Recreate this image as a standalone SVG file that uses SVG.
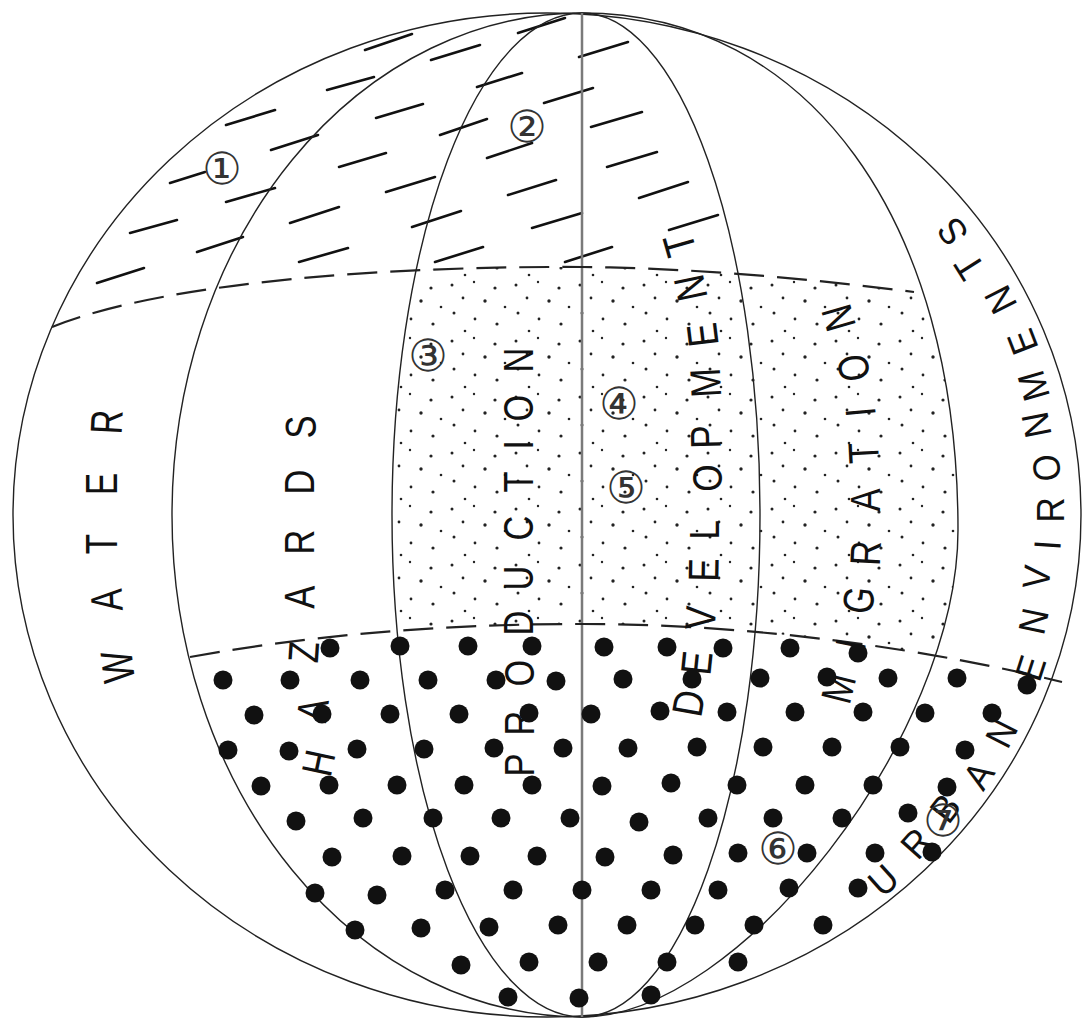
<svg xmlns="http://www.w3.org/2000/svg" width="1087" height="1020" viewBox="0 0 1087 1020">
<defs>
<style>
.ln{fill:none;stroke:#222;stroke-width:1.4}
.ctr{fill:none;stroke:#7a7a7a;stroke-width:2.5}
.dsh{fill:none;stroke:#222;stroke-width:2.2;stroke-dasharray:30 13}
.h line{stroke:#111;stroke-width:2.6;stroke-linecap:round}
.bd circle{fill:#111}
.sp circle{fill:#222}
.L{font-family:"Liberation Sans",Arial,sans-serif;font-size:43px;fill:#111;text-anchor:middle}
.W{font-size:45px}
.S{font-size:38px}
.num{font-family:"DejaVu Sans",sans-serif;font-size:44px;fill:#333;text-anchor:middle}
</style>
<pattern id="stip" width="64" height="56" patternUnits="userSpaceOnUse">
<g class="sp">
<circle cx="4" cy="5" r="1.5"/><circle cx="26" cy="2" r="1.2"/><circle cx="47" cy="8" r="1.6"/>
<circle cx="15" cy="18" r="1.4"/><circle cx="37" cy="21" r="1.7"/><circle cx="57" cy="27" r="1.3"/>
<circle cx="6" cy="33" r="1.5"/><circle cx="27" cy="39" r="1.4"/><circle cx="49" cy="44" r="1.6"/>
<circle cx="17" cy="51" r="1.3"/>
</g>
</pattern>
<clipPath id="lon"><path d="M582,13 A190,502 0 0 0 582,1017 C740,1017 958,735 958,530 C958,220 808,13 582,13 Z"/></clipPath>
<clipPath id="lat"><path d="M52,327 C170,280 400,266 582,267 C700,268 820,280 914,292 L1087,300 L1087,690 L1060,682 C930,650 760,624 582,624 C460,624 330,632 190,657 L0,665 L0,330 Z"/></clipPath>
</defs>
<rect width="1087" height="1020" fill="#fff"/>

<g id="stipple" clip-path="url(#lat)">
<rect x="370" y="250" width="620" height="430" fill="url(#stip)" clip-path="url(#lon)"/>
</g>

<g id="hatch" class="h">
<line x1="365" y1="50" x2="412" y2="34"/><line x1="431" y1="60" x2="480" y2="45"/>
<line x1="327" y1="90" x2="374" y2="77"/><line x1="477" y1="87" x2="522" y2="73"/>
<line x1="226" y1="125" x2="275" y2="110"/><line x1="376" y1="118" x2="423" y2="104"/>
<line x1="271" y1="150" x2="318" y2="135"/><line x1="440" y1="135" x2="487" y2="119"/>
<line x1="170" y1="183" x2="205" y2="172"/><line x1="339" y1="167" x2="386" y2="153"/>
<line x1="487" y1="158" x2="532" y2="143"/><line x1="226" y1="202" x2="275" y2="188"/>
<line x1="386" y1="192" x2="435" y2="177"/><line x1="130" y1="233" x2="177" y2="220"/>
<line x1="290" y1="223" x2="339" y2="207"/><line x1="412" y1="227" x2="461" y2="211"/>
<line x1="508" y1="195" x2="556" y2="180"/><line x1="197" y1="252" x2="243" y2="237"/>
<line x1="299" y1="262" x2="348" y2="248"/><line x1="435" y1="262" x2="483" y2="247"/>
<line x1="97" y1="283" x2="144" y2="268"/><line x1="532" y1="228" x2="582" y2="213"/>
<line x1="518" y1="33" x2="565" y2="18"/><line x1="579" y1="57" x2="628" y2="42"/>
<line x1="544" y1="103" x2="593" y2="88"/><line x1="591" y1="127" x2="642" y2="112"/>
<line x1="607" y1="167" x2="657" y2="152"/><line x1="639" y1="198" x2="688" y2="182"/>
<line x1="669" y1="230" x2="718" y2="215"/><line x1="565" y1="262" x2="612" y2="247"/>
</g>

<g id="outline">
<ellipse class="ln" cx="547" cy="515" rx="534" ry="502"/>
</g>

<g id="connectors">
<path class="ln" d="M582,13 A410,502 0 0 0 582,1017"/>
<path class="ln" d="M582,13 A190,502 0 0 0 582,1017"/>
<path class="ln" d="M582,13 A178,502 0 0 1 582,1017"/>
<path class="ln" d="M582,13 C808,13 958,220 958,530 C958,735 740,1017 582,1017"/>
<path class="ctr" d="M582,13 V1017"/>
<path class="dsh" d="M52,327 C170,280 400,266 582,267 C700,268 820,280 914,292"/>
<path class="dsh" d="M190,657 C330,632 460,624 582,624 C760,624 930,650 1062,682"/>
</g>

<g id="dots" class="bd">
<circle cx="330" cy="648" r="9.5"/><circle cx="400" cy="646" r="9.5"/><circle cx="468" cy="646" r="9.5"/><circle cx="532" cy="646" r="9.5"/><circle cx="604" cy="647" r="9.5"/><circle cx="667" cy="647" r="9.5"/><circle cx="723" cy="648" r="9.5"/><circle cx="790" cy="648" r="9.5"/><circle cx="858" cy="653" r="9.5"/>
<circle cx="223" cy="680" r="9.5"/><circle cx="290" cy="680" r="9.5"/><circle cx="360" cy="680" r="9.5"/><circle cx="428" cy="680" r="9.5"/><circle cx="496" cy="680" r="9.5"/><circle cx="556" cy="681" r="9.5"/><circle cx="623" cy="679" r="9.5"/><circle cx="692" cy="679" r="9.5"/><circle cx="760" cy="678" r="9.5"/><circle cx="827" cy="677" r="9.5"/><circle cx="888" cy="678" r="9.5"/><circle cx="957" cy="678" r="9.5"/><circle cx="1027" cy="685" r="9.5"/>
<circle cx="254" cy="715" r="9.5"/><circle cx="322" cy="714" r="9.5"/><circle cx="390" cy="714" r="9.5"/><circle cx="459" cy="714" r="9.5"/><circle cx="529" cy="713" r="9.5"/><circle cx="591" cy="714" r="9.5"/><circle cx="660" cy="711" r="9.5"/><circle cx="727" cy="712" r="9.5"/><circle cx="795" cy="712" r="9.5"/><circle cx="863" cy="712" r="9.5"/><circle cx="925" cy="713" r="9.5"/><circle cx="992" cy="713" r="9.5"/>
<circle cx="228" cy="750" r="9.5"/><circle cx="289" cy="751" r="9.5"/><circle cx="357" cy="749" r="9.5"/><circle cx="424" cy="749" r="9.5"/><circle cx="494" cy="748" r="9.5"/><circle cx="563" cy="748" r="9.5"/><circle cx="628" cy="748" r="9.5"/><circle cx="697" cy="747" r="9.5"/><circle cx="763" cy="747" r="9.5"/><circle cx="832" cy="747" r="9.5"/><circle cx="900" cy="747" r="9.5"/><circle cx="965" cy="750" r="9.5"/>
<circle cx="261" cy="786" r="9.5"/><circle cx="329" cy="785" r="9.5"/><circle cx="397" cy="785" r="9.5"/><circle cx="464" cy="785" r="9.5"/><circle cx="532" cy="785" r="9.5"/><circle cx="602" cy="786" r="9.5"/><circle cx="671" cy="783" r="9.5"/><circle cx="737" cy="785" r="9.5"/><circle cx="805" cy="785" r="9.5"/><circle cx="873" cy="785" r="9.5"/><circle cx="947" cy="787" r="9.5"/>
<circle cx="296" cy="821" r="9.5"/><circle cx="363" cy="818" r="9.5"/><circle cx="433" cy="818" r="9.5"/><circle cx="501" cy="818" r="9.5"/><circle cx="570" cy="818" r="9.5"/><circle cx="639" cy="822" r="9.5"/><circle cx="708" cy="818" r="9.5"/><circle cx="773" cy="818" r="9.5"/><circle cx="842" cy="818" r="9.5"/><circle cx="908" cy="813" r="9.5"/>
<circle cx="332" cy="857" r="9.5"/><circle cx="402" cy="856" r="9.5"/><circle cx="470" cy="856" r="9.5"/><circle cx="537" cy="856" r="9.5"/><circle cx="605" cy="857" r="9.5"/><circle cx="673" cy="855" r="9.5"/><circle cx="738" cy="853" r="9.5"/><circle cx="807" cy="853" r="9.5"/><circle cx="875" cy="853" r="9.5"/><circle cx="932" cy="852" r="9.5"/>
<circle cx="315" cy="893" r="9.5"/><circle cx="377" cy="895" r="9.5"/><circle cx="445" cy="890" r="9.5"/><circle cx="513" cy="890" r="9.5"/><circle cx="582" cy="890" r="9.5"/><circle cx="651" cy="890" r="9.5"/><circle cx="718" cy="890" r="9.5"/><circle cx="789" cy="888" r="9.5"/><circle cx="858" cy="888" r="9.5"/>
<circle cx="355" cy="930" r="9.5"/><circle cx="421" cy="928" r="9.5"/><circle cx="489" cy="927" r="9.5"/><circle cx="558" cy="925" r="9.5"/><circle cx="627" cy="925" r="9.5"/><circle cx="695" cy="925" r="9.5"/><circle cx="754" cy="925" r="9.5"/><circle cx="823" cy="925" r="9.5"/>
<circle cx="461" cy="965" r="9.5"/><circle cx="529" cy="962" r="9.5"/><circle cx="598" cy="962" r="9.5"/><circle cx="667" cy="962" r="9.5"/><circle cx="738" cy="962" r="9.5"/>
<circle cx="508" cy="997" r="9.5"/><circle cx="579" cy="998" r="9.5"/><circle cx="651" cy="995" r="9.5"/>
</g>

<g id="label-water" class="L W">
<text transform="translate(117,667) rotate(-97) scale(.74,1)" dy=".36em">W</text>
<text transform="translate(106,600) rotate(-93) scale(.74,1)" dy=".36em">A</text>
<text transform="translate(101,544) rotate(-90) scale(.74,1)" dy=".36em">T</text>
<text transform="translate(101,484) rotate(-90) scale(.74,1)" dy=".36em">E</text>
<text transform="translate(106,422) rotate(-87) scale(.74,1)" dy=".36em">R</text>
</g>

<g id="label-hazards" class="L">
<text transform="translate(318,763) rotate(-78) scale(.8,1)" dy=".36em">H</text>
<text transform="translate(312,710) rotate(-82) scale(.8,1)" dy=".36em">A</text>
<text transform="translate(303,652) rotate(-86) scale(.8,1)" dy=".36em">Z</text>
<text transform="translate(299,597) rotate(-89) scale(.8,1)" dy=".36em">A</text>
<text transform="translate(299,542) rotate(-90) scale(.8,1)" dy=".36em">R</text>
<text transform="translate(299,482) rotate(-90) scale(.8,1)" dy=".36em">D</text>
<text transform="translate(300,427) rotate(-91) scale(.8,1)" dy=".36em">S</text>
</g>

<g id="label-production" class="L">
<text transform="translate(519,765) rotate(-90) scale(.8,1)" dy=".36em">P</text>
<text transform="translate(519,723) rotate(-90) scale(.8,1)" dy=".36em">R</text>
<text transform="translate(519,673) rotate(-90) scale(.8,1)" dy=".36em">O</text>
<text transform="translate(518,623) rotate(-90) scale(.8,1)" dy=".36em">D</text>
<text transform="translate(518,578) rotate(-90) scale(.8,1)" dy=".36em">U</text>
<text transform="translate(518,528) rotate(-90) scale(.8,1)" dy=".36em">C</text>
<text transform="translate(518,482) rotate(-90) scale(.8,1)" dy=".36em">T</text>
<text transform="translate(518,445) rotate(-90) scale(.8,1)" dy=".36em">I</text>
<text transform="translate(518,408) rotate(-90) scale(.8,1)" dy=".36em">O</text>
<text transform="translate(518,360) rotate(-90) scale(.8,1)" dy=".36em">N</text>
</g>

<g id="label-development" class="L">
<text transform="translate(688,703) rotate(-80) scale(.82,1)" dy=".36em">D</text>
<text transform="translate(696,663) rotate(-84) scale(.82,1)" dy=".36em">E</text>
<text transform="translate(700,618) rotate(-87) scale(.82,1)" dy=".36em">V</text>
<text transform="translate(703,570) rotate(-89) scale(.82,1)" dy=".36em">E</text>
<text transform="translate(704,530) rotate(-90) scale(.82,1)" dy=".36em">L</text>
<text transform="translate(707,478) rotate(-90) scale(.82,1)" dy=".36em">O</text>
<text transform="translate(705,437) rotate(-91) scale(.82,1)" dy=".36em">P</text>
<text transform="translate(705,383) rotate(-93) scale(.82,1)" dy=".36em">M</text>
<text transform="translate(702,335) rotate(-97) scale(.82,1)" dy=".36em">E</text>
<text transform="translate(690,288) rotate(-102) scale(.82,1)" dy=".36em">N</text>
<text transform="translate(679,245) rotate(-106) scale(.82,1)" dy=".36em">T</text>
</g>

<g id="label-migration" class="L">
<text transform="translate(838,688) rotate(-76) scale(.8,1)" dy=".36em">M</text>
<text transform="translate(850,644) rotate(-79) scale(.8,1)" dy=".36em">I</text>
<text transform="translate(858,600) rotate(-83) scale(.8,1)" dy=".36em">G</text>
<text transform="translate(865,553) rotate(-87) scale(.8,1)" dy=".36em">R</text>
<text transform="translate(865,500) rotate(-90) scale(.8,1)" dy=".36em">A</text>
<text transform="translate(863,453) rotate(-93) scale(.8,1)" dy=".36em">T</text>
<text transform="translate(860,412) rotate(-95) scale(.8,1)" dy=".36em">I</text>
<text transform="translate(853,368) rotate(-100) scale(.8,1)" dy=".36em">O</text>
<text transform="translate(838,318) rotate(-106) scale(.8,1)" dy=".36em">N</text>
</g>

<g id="label-urban-environments" class="L S">
<text transform="translate(883,880) rotate(-42) scale(.92,1)" dy=".36em">U</text>
<text transform="translate(916,843) rotate(-48) scale(.92,1)" dy=".36em">R</text>
<text transform="translate(945,808) rotate(-52) scale(.92,1)" dy=".36em">B</text>
<text transform="translate(978,775) rotate(-57) scale(.92,1)" dy=".36em">A</text>
<text transform="translate(1001,733) rotate(-63) scale(.92,1)" dy=".36em">N</text>
<text transform="translate(1030,668) rotate(-72) scale(.92,1)" dy=".36em">E</text>
<text transform="translate(1033,621) rotate(-78) scale(.92,1)" dy=".36em">N</text>
<text transform="translate(1036,577) rotate(-84) scale(.92,1)" dy=".36em">V</text>
<text transform="translate(1047,545) rotate(-86) scale(.92,1)" dy=".36em">I</text>
<text transform="translate(1050,510) rotate(-90) scale(.92,1)" dy=".36em">R</text>
<text transform="translate(1046,468) rotate(-96) scale(.92,1)" dy=".36em">O</text>
<text transform="translate(1036,425) rotate(-101) scale(.92,1)" dy=".36em">N</text>
<text transform="translate(1033,386) rotate(-106) scale(.92,1)" dy=".36em">M</text>
<text transform="translate(1022,342) rotate(-111) scale(.92,1)" dy=".36em">E</text>
<text transform="translate(1000,300) rotate(-117) scale(.92,1)" dy=".36em">N</text>
<text transform="translate(969,267) rotate(-122) scale(.92,1)" dy=".36em">T</text>
<text transform="translate(952,232) rotate(-125) scale(.92,1)" dy=".36em">S</text>
</g>

<g id="numbers" class="num">
<text x="222" y="184">①</text>
<text x="527" y="142">②</text>
<text x="428" y="371">③</text>
<text x="619" y="419">④</text>
<text x="626" y="503">⑤</text>
<text x="778" y="864">⑥</text>
<text x="943" y="836">⑦</text>
</g>
</svg>
